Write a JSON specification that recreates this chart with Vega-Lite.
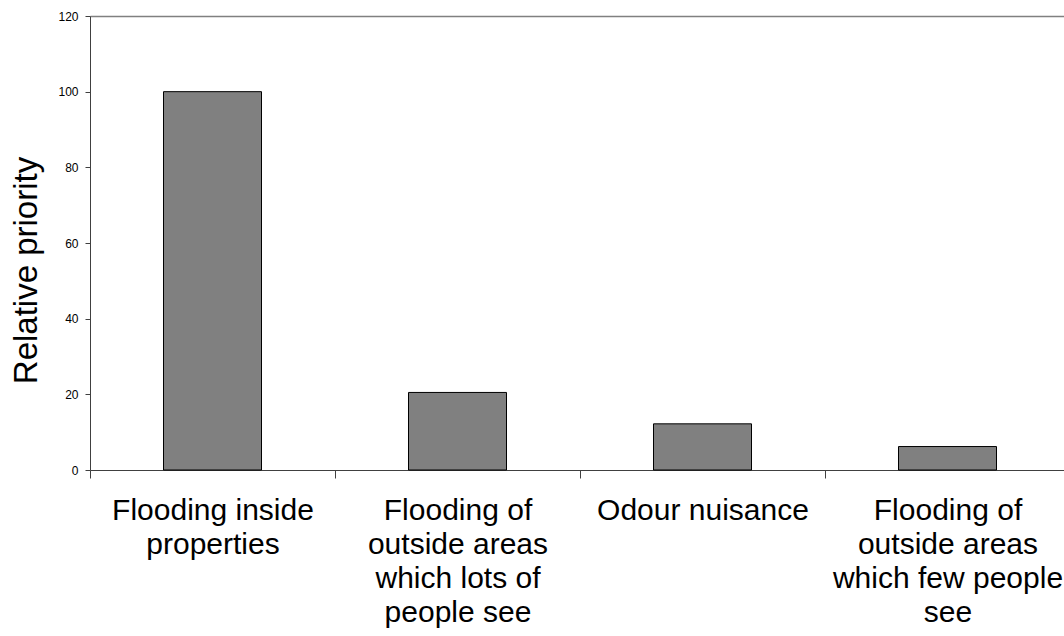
{
  "$schema": "https://vega.github.io/schema/vega-lite/v6.json",
  "autosize": "none",
  "width": 974,
  "height": 454,
  "padding": {"left": 90, "top": 16, "right": 0, "bottom": 166},
  "background": "white",
  "config": {
    "view": {"stroke": null},
    "font": "Liberation Sans"
  },
  "data": {
    "values": [
      {"category": "Flooding inside\nproperties", "priority": 100},
      {"category": "Flooding of\noutside areas\nwhich lots of\npeople see", "priority": 20.5},
      {"category": "Odour nuisance", "priority": 12.2},
      {"category": "Flooding of\noutside areas\nwhich few people\nsee", "priority": 6.2}
    ]
  },
  "mark": {"type": "bar", "color": "#808080", "stroke": "#000000", "strokeWidth": 1},
  "encoding": {
    "x": {
      "field": "category",
      "type": "nominal",
      "sort": null,
      "scale": {"range": [0, 980], "paddingInner": 0.6, "paddingOuter": 0.3},
      "axis": {
        "title": null,
        "labelAngle": 0,
        "labelExpr": "split(datum.value, '\\n')",
        "labelFontSize": 30,
        "labelColor": "#000000",
        "labelLineHeight": 34,
        "labelPadding": 17,
        "labelBaseline": "top",
        "labelLimit": 400,
        "tickOffset": -122.5,
        "labelOffset": 122.5,
        "tickSize": 8,
        "tickColor": "#404040",
        "domainColor": "#404040",
        "grid": false
      }
    },
    "y": {
      "field": "priority",
      "type": "quantitative",
      "scale": {"domain": [0, 120], "nice": false},
      "axis": {
        "title": "Relative priority",
        "titleFontSize": 33,
        "titleFontWeight": "normal",
        "titleColor": "#000000",
        "titleX": -54,
        "titleY": 254,
        "titleAngle": -90,
        "titleAlign": "center",
        "titleBaseline": "alphabetic",
        "values": [0, 20, 40, 60, 80, 100, 120],
        "labelFontSize": 12,
        "labelColor": "#000000",
        "labelPadding": 7,
        "tickSize": 5,
        "tickColor": "#404040",
        "domainColor": "#404040",
        "grid": true,
        "gridColor": "#808080",
        "gridWidth": 1.5,
        "gridOpacity": {"condition": {"test": "datum.value == 120", "value": 1}, "value": 0}
      }
    }
  }
}
